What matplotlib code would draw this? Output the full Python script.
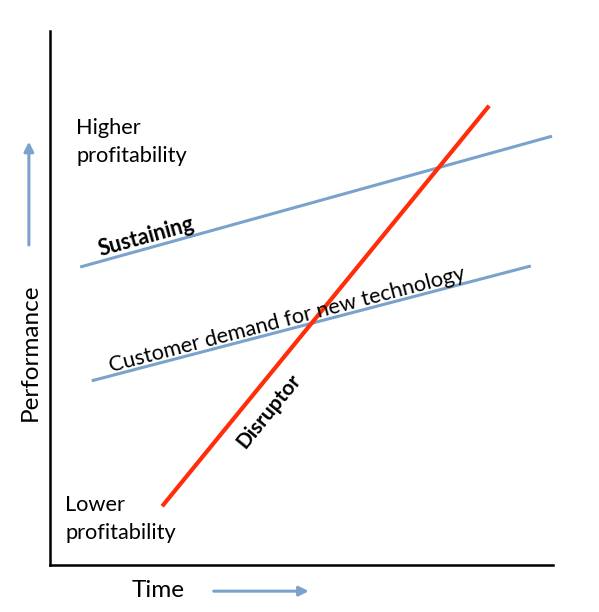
import numpy as np
import matplotlib.pyplot as plt

plt.rcParams['font.family'] = ['Lato', 'DejaVu Sans']

# line endpoints in chart units (time 0-10, performance 0-10)
sustaining_x = [0.60, 9.98]
sustaining_y = [5.58, 8.03]
demand_x = [0.83, 9.56]
demand_y = [3.45, 5.60]
disruptor_x = [2.23, 8.73]
disruptor_y = [1.10, 8.60]

blue = '#7aa2cc'
red = '#ff2d0a'

fig = plt.figure(figsize=(5.99, 6.12), dpi=100)
ax = fig.add_axes([50 / 599, 47 / 612, 503 / 599, 534 / 612])
ax.set_xlim(0, 10)
ax.set_ylim(0, 10)
for s in ['top', 'right']:
    ax.spines[s].set_visible(False)
for s in ['left', 'bottom']:
    ax.spines[s].set_linewidth(1.8)
ax.set_xticks([])
ax.set_yticks([])

ax.plot(sustaining_x, sustaining_y, color=blue, lw=2.2, solid_capstyle='butt')
ax.plot(demand_x, demand_y, color=blue, lw=2.2, solid_capstyle='butt')
ax.plot(disruptor_x, disruptor_y, color=red, lw=3, solid_capstyle='butt')


def angle(xs, ys):
    p = ax.transData.transform(np.column_stack([xs, ys]))
    return np.degrees(np.arctan2(p[1, 1] - p[0, 1], p[1, 0] - p[0, 0]))


# labels along the lines
ax.text(1.91, 6.14, 'Sustaining', fontsize=15.5, fontweight='bold',
        rotation=angle(sustaining_x, sustaining_y), ha='center', va='center')
ax.text(4.71, 4.59, 'Customer demand for new technology', fontsize=15.7,
        rotation=angle(demand_x, demand_y), ha='center', va='center')
ax.text(4.35, 2.88, 'Disruptor', fontsize=15, fontweight='bold',
        rotation=angle(disruptor_x, disruptor_y), ha='center', va='center')

ax.text(0.52, 7.92, 'Higher\nprofitability', fontsize=15.7, ha='left', va='center',
        linespacing=1.45)
ax.text(0.30, 0.86, 'Lower\nprofitability', fontsize=15.7, ha='left', va='center',
        linespacing=1.45)

# axis titles and arrows outside the axes
ax.text(-0.040, 0.399, 'Performance', fontsize=17.5, rotation=90, ha='center', va='center',
        transform=ax.transAxes)
ax.text(0.215, -0.048, 'Time', fontsize=17.5, ha='center', va='center',
        transform=ax.transAxes)
ax.annotate('', xy=(-0.042, 0.798), xytext=(-0.042, 0.594), xycoords='axes fraction',
            arrowprops=dict(arrowstyle='-|>', color=blue, lw=2.2, mutation_scale=14))
ax.annotate('', xy=(0.520, -0.049), xytext=(0.320, -0.049), xycoords='axes fraction',
            arrowprops=dict(arrowstyle='-|>', color=blue, lw=2.2, mutation_scale=14))

fig.savefig('out.png', dpi=100)
